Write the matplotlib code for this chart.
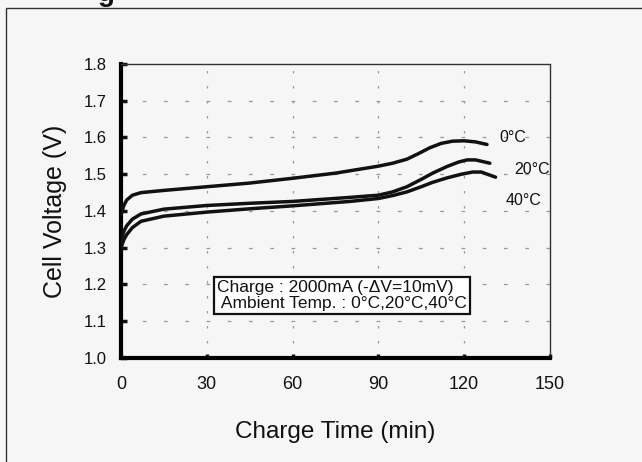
import matplotlib.pyplot as plt
from matplotlib.patches import Rectangle

# Datos (tiempo en min, voltaje en V)
t_0c = [0, 1, 2, 4, 7, 15, 30, 45, 60, 75, 90, 95, 100, 104, 108, 112, 116,
        120, 124, 128]
v_0c = [1.39, 1.415, 1.43, 1.443, 1.450, 1.456, 1.466, 1.476, 1.489, 1.503,
        1.522, 1.530, 1.541, 1.556, 1.572, 1.584, 1.590, 1.591, 1.588, 1.581]

t_20c = [0, 1, 2, 4, 7, 15, 30, 45, 60, 80, 90, 95, 100, 105, 109, 114, 118,
         121, 124, 129]
v_20c = [1.32, 1.345, 1.36, 1.378, 1.392, 1.405, 1.415, 1.421, 1.426, 1.437,
         1.443, 1.452, 1.466, 1.486, 1.503, 1.521, 1.533, 1.539, 1.539, 1.530]

t_40c = [0, 1, 2, 4, 7, 15, 30, 45, 60, 80, 90, 95, 100, 105, 109, 114, 119,
         123, 126, 131]
v_40c = [1.30, 1.322, 1.336, 1.355, 1.372, 1.386, 1.397, 1.406, 1.414, 1.426,
         1.434, 1.442, 1.452, 1.466, 1.478, 1.490, 1.500, 1.506, 1.506, 1.492]

x_ticks = [0, 30, 60, 90, 120, 150]
y_ticks = [1.0, 1.1, 1.2, 1.3, 1.4, 1.5, 1.6, 1.7, 1.8]

plt.rcParams["font.family"] = ["Liberation Sans", "DejaVu Sans"]

BG = "#f6f6f6"
INK = "#111111"

fig = plt.figure(figsize=(6.42, 4.62), dpi=100, facecolor=BG)
ax = fig.add_axes([0.1885, 0.2251, 0.668, 0.6364], facecolor=BG)

# Marco exterior del escaneo
fig.patches.append(Rectangle((6 / 642, -0.1), 1.2, 1 - 8 / 462 + 0.1,
                             transform=fig.transFigure, fill=False,
                             ec="#333333", lw=1.0))
# Fragmento del titulo cortado por el escaneo
fig.text(0.165, 1.012, "g", fontsize=20, fontweight="bold", ha="center",
         va="center", color=INK)

# Rejilla
for yv in y_ticks[1:-1]:
    ax.axhline(yv, color="#999999", lw=0.9, ls=(0, (3, 14)), zorder=1)
for xv in x_ticks[1:-1]:
    ax.axvline(xv, color="#999999", lw=0.9, ls=(0, (2, 10)), zorder=1)

ax.plot(t_0c, v_0c, color=INK, lw=2.5, solid_capstyle="round",
        solid_joinstyle="round", zorder=3)
ax.plot(t_20c, v_20c, color=INK, lw=2.5, solid_capstyle="round",
        solid_joinstyle="round", zorder=3)
ax.plot(t_40c, v_40c, color=INK, lw=2.5, solid_capstyle="round",
        solid_joinstyle="round", zorder=3)

ax.text(132.5, 1.600, "0\u00b0C", fontsize=11.5, ha="left", va="center", color=INK)
ax.text(137.5, 1.513, "20\u00b0C", fontsize=11.5, ha="left", va="center", color=INK)
ax.text(134.5, 1.429, "40\u00b0C", fontsize=11.5, ha="left", va="center", color=INK)

ax.text(33.6, 1.17,
        "Charge : 2000mA (-\u0394V=10mV)\n Ambient Temp. : 0\u00b0C,20\u00b0C,40\u00b0C",
        fontsize=12.5, ha="left", va="center", color=INK, linespacing=1.05,
        bbox=dict(boxstyle="square,pad=0.2", fc="white", ec=INK, lw=1.6))

ax.set_xlim(0, 150)
ax.set_ylim(1.0, 1.8)
ax.set_xticks(x_ticks)
ax.set_yticks(y_ticks)
ax.set_xticklabels([str(v) for v in x_ticks])
ax.set_yticklabels([f"{v:.1f}" for v in y_ticks])

ax.spines["left"].set_linewidth(3)
ax.spines["bottom"].set_linewidth(3)
for s in ("top", "right"):
    ax.spines[s].set_linewidth(1.0)
    ax.spines[s].set_linestyle((0, (1, 1)))
    ax.spines[s].set_color("#333333")

ax.tick_params(axis="y", direction="in", length=4, width=2.5, pad=10,
               labelsize=12, colors=INK)
ax.tick_params(axis="x", direction="in", length=3, width=2.5, pad=13,
               labelsize=13, colors=INK)

ax.set_ylabel("Cell Voltage (V)", fontsize=18, labelpad=12, color=INK)
ax.set_xlabel("Charge Time (min)", fontsize=17.5, labelpad=20, color=INK)

fig.savefig("out.png", dpi=100, facecolor=BG)
